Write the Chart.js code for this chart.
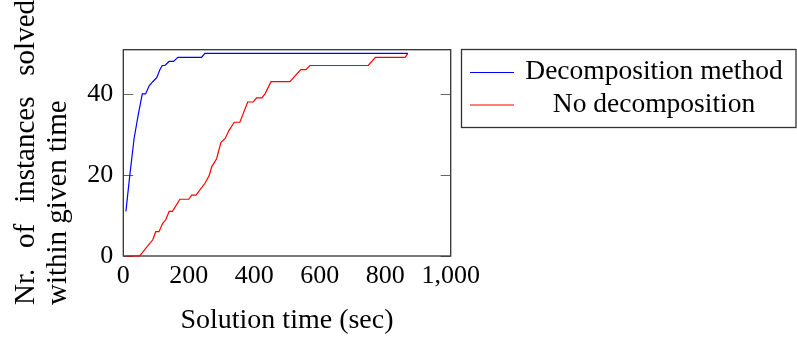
<!DOCTYPE html>
<html><head><meta charset="utf-8">
<script src="https://cdn.jsdelivr.net/npm/chart.js@4/dist/chart.umd.min.js"></script>
<style>html,body{margin:0;padding:0;background:#fff;}canvas{display:block;}</style>
</head><body>
<canvas id="c" width="797" height="338"></canvas>
<script>
// ---- data ----
const seriesNames = ['Decomposition method', 'No decomposition'];
const seriesColors = ['#0000ff', '#ff0000'];
const decompTime   = [8, 20, 33, 46, 58, 68, 79, 90, 102, 112, 119, 127, 140, 153, 167, 239, 249, 869];
const decompSolved = [11, 20, 29, 35, 40, 40, 42, 43, 44, 46, 47, 47, 48, 48, 49, 49, 50, 50];
const noDecompTime   = [8, 50, 90, 99, 109, 120, 130, 140, 150, 173, 200, 209, 222, 250, 263, 270, 285, 298, 311, 323, 339, 356, 380, 397, 407, 423, 433, 451, 509, 542, 558, 570, 748, 770, 861, 869];
const noDecompSolved = [0, 0, 4, 6, 6, 8, 9, 11, 11, 14, 14, 15, 15, 18, 20, 22, 24, 28, 29, 31, 33, 33, 38, 38, 39, 39, 40, 43, 43, 46, 46, 47, 47, 49, 49, 50];
const xTickValues = [0, 200, 400, 600, 800, 1000];
const xTickLabels = ['0', '200', '400', '600', '800', '1,000'];
const yTickValues = [0, 20, 40];
const yTickLabels = ['0', '20', '40'];
const xAxisTitle = 'Solution time (sec)';
const yAxisTitle = ['Nr. of instances solved', 'within given time'];

const FONT = "'Liberation Serif', 'Times New Roman', serif";

function pts(xs, ys) { return xs.map((x, i) => ({x: x, y: ys[i]})); }

const decorPlugin = {
  id: 'decor',
  beforeDatasetsDraw(chart) {
    const {ctx, chartArea: a, scales: {y}} = chart;
    ctx.save();
    ctx.strokeStyle = '#666'; ctx.lineWidth = 1;
    yTickValues.forEach(v => {
      const py = Math.round(y.getPixelForValue(v)) + 0.5;
      ctx.beginPath();
      ctx.moveTo(a.left, py); ctx.lineTo(a.left + 10, py);
      ctx.moveTo(a.right, py); ctx.lineTo(a.right - 10, py);
      ctx.stroke();
    });
    ctx.strokeStyle = '#333'; ctx.lineWidth = 1.3;
    ctx.strokeRect(a.left, a.top, a.right - a.left, a.bottom - a.top);
    ctx.restore();
  },
  afterDraw(chart) {
    const ctx = chart.ctx;
    ctx.save();
    // legend
    ctx.strokeStyle = '#333'; ctx.lineWidth = 1.3;
    ctx.strokeRect(461.5, 49.5, 334.5, 78);
    ctx.font = '27.5px ' + FONT;
    ctx.fillStyle = '#000';
    ctx.textAlign = 'center';
    ctx.textBaseline = 'alphabetic';
    chart.data.datasets.forEach((ds, i) => {
      const base = 79 + i * 32.5;
      ctx.strokeStyle = ds.borderColor; ctx.lineWidth = 1.2;
      ctx.beginPath(); ctx.moveTo(470, base - 6.5); ctx.lineTo(514, base - 6.5); ctx.stroke();
      ctx.fillText(ds.label, 654, base);
    });
    // y title (rotated, first line justified)
    ctx.font = '29px ' + FONT;
    ctx.textAlign = 'left';
    const startY = 305, W = 305;
    const words = yAxisTitle[0].split(' ');
    const widths = words.map(w => ctx.measureText(w).width);
    const gap = (W - widths.reduce((s, v) => s + v, 0)) / (words.length - 1);
    ctx.save();
    ctx.translate(33.5, startY); ctx.rotate(-Math.PI / 2);
    let u = 0;
    words.forEach((w, i) => { ctx.fillText(w, u, 0); u += widths[i] + gap; });
    ctx.restore();
    ctx.save();
    ctx.translate(66, startY); ctx.rotate(-Math.PI / 2);
    ctx.fillText(yAxisTitle[1], 0, 0);
    ctx.restore();
    ctx.restore();
  }
};

new Chart(document.getElementById('c'), {
  type: 'scatter',
  data: {
    datasets: [
      {label: seriesNames[0], data: pts(decompTime, decompSolved), borderColor: seriesColors[0], backgroundColor: seriesColors[0]},
      {label: seriesNames[1], data: pts(noDecompTime, noDecompSolved), borderColor: seriesColors[1], backgroundColor: seriesColors[1]}
    ].map(d => Object.assign(d, {showLine: true, pointRadius: 0, borderWidth: 1.2, tension: 0, clip: 4}))
  },
  options: {
    responsive: false,
    animation: false,
    devicePixelRatio: 1,
    layout: {padding: {left: 0, top: 49.7, right: 346.3, bottom: 0}},
    plugins: {legend: {display: false}, tooltip: {enabled: false}},
    scales: {
      x: {
        type: 'linear', min: 0, max: 1000,
        afterFit(s) { s.height = 82; },
        afterBuildTicks(s) { s.ticks = xTickValues.map(v => ({value: v})); },
        ticks: {callback: (v, i) => xTickLabels[i], font: {family: FONT, size: 26}, color: '#000', padding: 5, maxRotation: 0, autoSkip: false},
        grid: {display: false, drawTicks: false},
        border: {display: false},
        title: {display: true, text: xAxisTitle, font: {family: FONT, size: 28}, color: '#000', padding: {top: 0, bottom: 1}}
      },
      y: {
        type: 'linear', min: 0, max: 50.9,
        afterFit(s) { s.width = 123.3; },
        afterBuildTicks(s) { s.ticks = yTickValues.map(v => ({value: v})); },
        ticks: {callback: (v, i) => yTickLabels[i], font: {family: FONT, size: 26}, color: '#000', padding: 10},
        grid: {display: false, drawTicks: false},
        border: {display: false}
      }
    }
  },
  plugins: [decorPlugin]
});
</script>
</body></html>
